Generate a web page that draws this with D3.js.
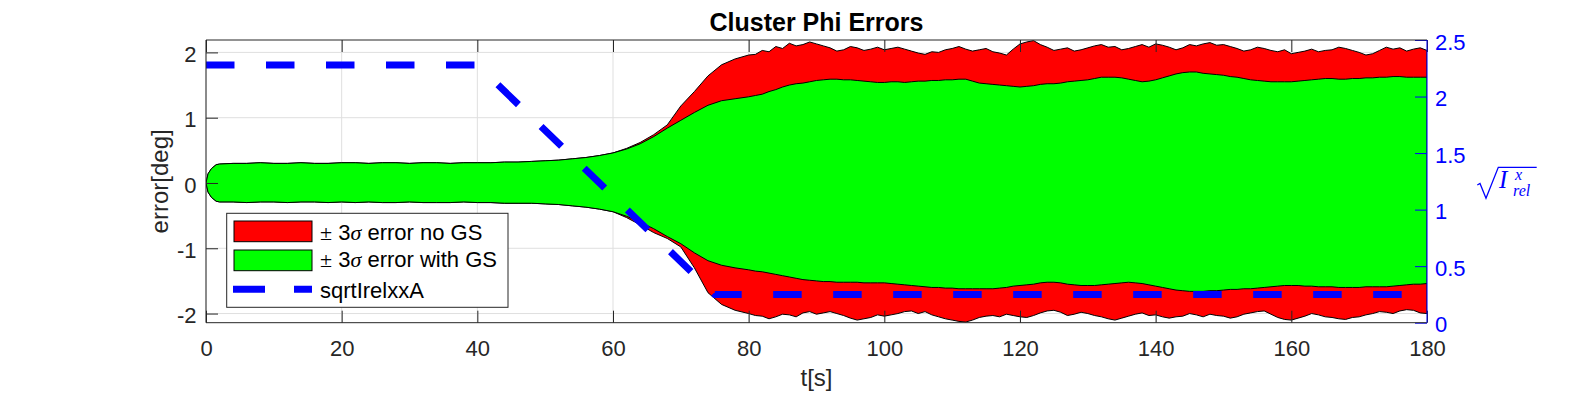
<!DOCTYPE html>
<html>
<head>
<meta charset="utf-8">
<script src="https://cdn.jsdelivr.net/npm/d3@7"></script>
<style>
body { margin: 0; background: #fff; }
text { font-family: "Liberation Sans", Arial, sans-serif; }
</style>
</head>
<body>
<script>
const width = 1578
const height = 395

// time samples [s]
const times = [
    0, 0.3, 0.8, 1.5,
    2, 4, 6, 8, 10, 12, 14, 16, 18, 20,
    22, 24, 26, 28, 30, 32, 34, 36, 38, 40,
    42, 44, 46, 48, 50, 52, 54, 56, 58, 60,
    62, 64, 66, 68, 70, 72, 74, 76, 78, 80,
    81, 82, 83, 84, 85, 86, 87, 88, 89, 90,
    91, 92, 93, 94, 95, 96, 97, 98, 99, 100,
    101, 102, 103, 104, 105, 106, 107, 108, 109, 110,
    111, 112, 113, 114, 115, 116, 117, 118, 119, 120,
    121, 122, 123, 124, 125, 126, 127, 128, 129, 130,
    131, 132, 133, 134, 135, 136, 137, 138, 139, 140,
    141, 142, 143, 144, 145, 146, 147, 148, 149, 150,
    151, 152, 153, 154, 155, 156, 157, 158, 159, 160,
    161, 162, 163, 164, 165, 166, 167, 168, 169, 170,
    171, 172, 173, 174, 175, 176, 177, 178, 179, 180
]

// +3 sigma / -3 sigma without GS [deg]
const noGsUpper = [
    0, 0.14, 0.22, 0.28,
    0.29, 0.30, 0.30, 0.31, 0.30, 0.30, 0.31, 0.30, 0.30, 0.31,
    0.31, 0.30, 0.31, 0.31, 0.30, 0.31, 0.31, 0.30, 0.31, 0.31,
    0.31, 0.32, 0.32, 0.33, 0.34, 0.35, 0.37, 0.39, 0.42, 0.46,
    0.53, 0.62, 0.74, 0.89, 1.18, 1.40, 1.64, 1.81, 1.90, 1.96,
    1.97, 2.03, 2.01, 2.09, 2.06, 2.14, 2.10, 2.12, 2.16, 2.13,
    2.10, 2.07, 2.02, 2.04, 2.09, 2.07, 2.03, 2.05, 2.08, 2.04,
    2.06, 2.08, 2.05, 2.02, 1.99, 1.97, 2.01, 2.00, 2.04, 2.06,
    2.09, 2.05, 2.02, 2.04, 2.06, 2.01, 1.99, 1.96, 2.05, 2.13,
    2.16, 2.18, 2.12, 2.08, 2.03, 2.05, 2.07, 2.02, 2.04, 2.07,
    2.10, 2.12, 2.08, 2.09, 2.04, 2.06, 2.09, 2.12, 2.08, 2.13,
    2.11, 2.08, 2.04, 2.07, 2.12, 2.10, 2.13, 2.15, 2.11, 2.12,
    2.09, 2.06, 2.02, 2.04, 2.08, 2.06, 2.03, 2.01, 2.04, 1.98,
    2.00, 2.02, 2.05, 2.01, 2.03, 2.04, 2.08, 2.06, 2.03, 2.00,
    1.96, 1.98, 2.03, 2.08, 2.05, 2.07, 2.02, 2.05, 2.07, 2.03
]
const noGsLower = [
    0, -0.14, -0.22, -0.28,
    -0.29, -0.29, -0.30, -0.29, -0.29, -0.30, -0.29, -0.29, -0.30, -0.29,
    -0.30, -0.29, -0.30, -0.30, -0.29, -0.30, -0.30, -0.30, -0.29, -0.30,
    -0.30, -0.31, -0.31, -0.31, -0.32, -0.33, -0.35, -0.37, -0.40, -0.44,
    -0.53, -0.64, -0.76, -0.85, -0.98, -1.30, -1.68, -1.86, -1.95, -2.00,
    -2.03, -2.04, -2.08, -2.05, -2.01, -2.02, -2.05, -1.99, -1.97, -2.01,
    -1.99, -1.97, -2.00, -2.03, -2.07, -2.10, -2.08, -2.06, -2.02, -2.04,
    -2.02, -2.00, -1.97, -1.96, -2.00, -1.97, -2.02, -2.05, -2.08, -2.10,
    -2.12, -2.13, -2.10, -2.06, -2.04, -2.03, -2.05, -2.01, -2.03, -2.05,
    -2.06, -2.03, -1.99, -1.96, -1.95, -1.98, -2.03, -2.01, -1.98, -2.00,
    -2.03, -2.05, -2.08, -2.10, -2.07, -2.04, -2.01, -1.99, -2.03, -2.02,
    -2.05, -2.07, -2.05, -2.04, -2.00, -2.02, -2.05, -2.01, -2.03, -2.04,
    -2.07, -2.05, -2.01, -1.99, -1.97, -1.96, -2.01, -2.06, -2.09, -2.10,
    -2.07, -2.04, -2.00, -2.02, -2.05, -2.06, -2.08, -2.09, -2.06, -2.05,
    -2.02, -2.00, -1.97, -1.98, -2.00, -1.96, -1.94, -1.95, -1.99, -2.00
]

// +3 sigma / -3 sigma with GS [deg]
const gsUpper = [
    0, 0.14, 0.22, 0.28,
    0.29, 0.30, 0.30, 0.31, 0.30, 0.30, 0.31, 0.30, 0.30, 0.31,
    0.31, 0.30, 0.31, 0.31, 0.30, 0.31, 0.31, 0.30, 0.31, 0.31,
    0.31, 0.32, 0.32, 0.33, 0.34, 0.35, 0.37, 0.39, 0.42, 0.46,
    0.52, 0.60, 0.71, 0.84, 0.96, 1.08, 1.19, 1.26, 1.29, 1.32,
    1.34, 1.36, 1.40, 1.43, 1.47, 1.50, 1.52, 1.53, 1.55, 1.57,
    1.58, 1.59, 1.59, 1.58, 1.58, 1.57, 1.56, 1.55, 1.54, 1.54,
    1.55, 1.55, 1.54, 1.55, 1.56, 1.56, 1.57, 1.57, 1.58, 1.58,
    1.59, 1.59, 1.56, 1.53, 1.52, 1.51, 1.50, 1.49, 1.48, 1.47,
    1.48, 1.49, 1.51, 1.52, 1.52, 1.53, 1.55, 1.56, 1.57, 1.58,
    1.60, 1.62, 1.62, 1.62, 1.61, 1.59, 1.57, 1.55, 1.56, 1.58,
    1.61, 1.64, 1.67, 1.69, 1.70, 1.70, 1.68, 1.67, 1.66, 1.65,
    1.63, 1.62, 1.60, 1.58, 1.57, 1.56, 1.55, 1.55, 1.55, 1.55,
    1.56, 1.57, 1.58, 1.59, 1.60, 1.60, 1.59, 1.59, 1.60, 1.60,
    1.61, 1.61, 1.62, 1.62, 1.63, 1.63, 1.62, 1.62, 1.62, 1.62
]
const gsLower = [
    0, -0.14, -0.22, -0.28,
    -0.29, -0.29, -0.30, -0.29, -0.29, -0.30, -0.29, -0.29, -0.30, -0.29,
    -0.30, -0.29, -0.30, -0.30, -0.29, -0.30, -0.30, -0.30, -0.29, -0.30,
    -0.30, -0.31, -0.31, -0.31, -0.32, -0.33, -0.35, -0.37, -0.40, -0.44,
    -0.51, -0.60, -0.70, -0.82, -0.93, -1.07, -1.19, -1.26, -1.30, -1.33,
    -1.35, -1.36, -1.38, -1.40, -1.42, -1.44, -1.46, -1.48, -1.49, -1.50,
    -1.51, -1.51, -1.52, -1.52, -1.52, -1.52, -1.53, -1.53, -1.53, -1.53,
    -1.54, -1.55, -1.56, -1.57, -1.58, -1.59, -1.60, -1.60, -1.61, -1.61,
    -1.62, -1.62, -1.62, -1.62, -1.62, -1.62, -1.61, -1.60, -1.58, -1.57,
    -1.56, -1.55, -1.53, -1.52, -1.52, -1.53, -1.55, -1.56, -1.57, -1.57,
    -1.57, -1.56, -1.55, -1.54, -1.53, -1.52, -1.53, -1.54, -1.56, -1.58,
    -1.60, -1.62, -1.64, -1.65, -1.66, -1.66, -1.66, -1.65, -1.65, -1.64,
    -1.63, -1.63, -1.62, -1.62, -1.61, -1.60, -1.59, -1.58, -1.57, -1.57,
    -1.57, -1.58, -1.58, -1.59, -1.59, -1.59, -1.60, -1.60, -1.60, -1.60,
    -1.59, -1.59, -1.59, -1.59, -1.58, -1.57, -1.56, -1.55, -1.55, -1.54
]

// sqrtIrelxxA (right axis) breakpoints
const relTimes = [0, 40, 75, 180]
const relValues = [2.28, 2.28, 0.25, 0.25]

const xTicks = [0, 20, 40, 60, 80, 100, 120, 140, 160, 180]
const yLeftTicks = [-2, -1, 0, 1, 2]
const yRightTicks = [0, 0.5, 1, 1.5, 2, 2.5]
const legendLabels = ['± 3σ error no GS', '± 3σ error with GS', 'sqrtIrelxxA']

const colors = {
    noGS: '#ff0000',
    withGS: '#00ff00',
    edge: '#000',
    rel: '#0000ff',
    axis: '#262626',
    grid: '#dfdfdf'
}

const plot = {left: 206, right: 1427, top: 40, bottom: 322.7}

const x = d3.scaleLinear().domain([0, 180]).range([plot.left, plot.right])
const yLeft = d3.scaleLinear().domain([-2.14, 2.19]).range([plot.bottom, plot.top])
const yRight = d3.scaleLinear().domain([0, 2.5]).range([plot.bottom, plot.top])

const svg = d3.select('body')
    .append('svg')
    .attr('width', width)
    .attr('height', height)

svg.append('defs').append('clipPath')
    .attr('id', 'plot-clip')
    .append('rect')
    .attr('x', plot.left)
    .attr('y', plot.top)
    .attr('width', plot.right - plot.left)
    .attr('height', plot.bottom - plot.top)

// grid
const grid = svg.append('g')
grid.selectAll('.vgrid')
    .data(xTicks)
    .enter().append('line')
    .attr('x1', d => x(d)).attr('x2', d => x(d))
    .attr('y1', plot.top).attr('y2', plot.bottom)
    .attr('stroke', colors.grid)
grid.selectAll('.hgrid')
    .data(yLeftTicks)
    .enter().append('line')
    .attr('x1', plot.left).attr('x2', plot.right)
    .attr('y1', d => yLeft(d)).attr('y2', d => yLeft(d))
    .attr('stroke', colors.grid)

// error bands
const band = (upper, lower) => times.map((t, i) => ({t, hi: upper[i], lo: lower[i]}))
const area = d3.area()
    .x(d => x(d.t))
    .y0(d => yLeft(d.lo))
    .y1(d => yLeft(d.hi))

const bands = svg.append('g').attr('clip-path', 'url(#plot-clip)')

bands.append('path')
    .datum(band(noGsUpper, noGsLower))
    .attr('d', area)
    .attr('fill', colors.noGS)
    .attr('stroke', colors.edge)
    .attr('stroke-width', 1)

bands.append('path')
    .datum(band(gsUpper, gsLower))
    .attr('d', area)
    .attr('fill', colors.withGS)
    .attr('stroke', colors.edge)
    .attr('stroke-width', 1)

// dashed blue line on the right axis
const relLine = d3.line()
    .x(d => x(d[0]))
    .y(d => yRight(d[1]))

bands.append('path')
    .datum(relTimes.map((t, i) => [t, relValues[i]]))
    .attr('d', relLine)
    .attr('fill', 'none')
    .attr('stroke', colors.rel)
    .attr('stroke-width', 7)
    .attr('stroke-dasharray', '28.5 31.5')

// axes
const styleAxis = (g, color) => {
    g.select('.domain').remove()
    g.selectAll('line').attr('stroke', color)
    g.selectAll('text')
        .attr('fill', color)
        .style('font-size', '22px')
        .style('font-family', '"Liberation Sans", Arial, sans-serif')
}

svg.append('g')
    .attr('transform', `translate(0,${plot.bottom})`)
    .call(d3.axisBottom(x).tickValues(xTicks).tickSize(-12).tickSizeOuter(0).tickPadding(17.5))
    .call(g => styleAxis(g, colors.axis))

svg.append('g')
    .attr('transform', `translate(0,${plot.top})`)
    .call(d3.axisTop(x).tickValues(xTicks).tickSize(-12).tickSizeOuter(0).tickFormat(''))
    .call(g => styleAxis(g, colors.axis))

svg.append('g')
    .attr('transform', `translate(${plot.left},0)`)
    .call(d3.axisLeft(yLeft).tickValues(yLeftTicks).tickSize(-12).tickSizeOuter(0).tickPadding(9.5)
        .tickFormat(d => String(d)))
    .call(g => styleAxis(g, colors.axis))
    .call(g => g.selectAll('text').attr('dy', '0.42em'))

svg.append('g')
    .attr('transform', `translate(${plot.right},0)`)
    .call(d3.axisRight(yRight).tickValues(yRightTicks).tickSize(-12).tickSizeOuter(0).tickPadding(8)
        .tickFormat(d => String(d)))
    .call(g => styleAxis(g, colors.rel))
    .call(g => g.selectAll('text').attr('dy', '0.42em'))

// box
const box = svg.append('g').attr('stroke-width', 1)
box.append('line')
    .attr('x1', plot.left).attr('x2', plot.right)
    .attr('y1', plot.top).attr('y2', plot.top)
    .attr('stroke', colors.axis)
box.append('line')
    .attr('x1', plot.left).attr('x2', plot.right)
    .attr('y1', plot.bottom).attr('y2', plot.bottom)
    .attr('stroke', colors.axis)
box.append('line')
    .attr('x1', plot.left).attr('x2', plot.left)
    .attr('y1', plot.top).attr('y2', plot.bottom)
    .attr('stroke', colors.axis)
box.append('line')
    .attr('x1', plot.right).attr('x2', plot.right)
    .attr('y1', plot.top).attr('y2', plot.bottom)
    .attr('stroke', colors.rel)

// title and labels
svg.append('text')
    .attr('x', (plot.left + plot.right) / 2)
    .attr('y', 31)
    .attr('text-anchor', 'middle')
    .attr('fill', '#000')
    .style('font-size', '25px')
    .style('font-weight', 'bold')
    .text('Cluster Phi Errors')

svg.append('text')
    .attr('x', (plot.left + plot.right) / 2)
    .attr('y', 386)
    .attr('text-anchor', 'middle')
    .attr('fill', colors.axis)
    .style('font-size', '24px')
    .text('t[s]')

svg.append('text')
    .attr('transform', `translate(168,${(plot.top + plot.bottom) / 2}) rotate(-90)`)
    .attr('text-anchor', 'middle')
    .attr('fill', colors.axis)
    .style('font-size', '24px')
    .text('error[deg]')

// right label: sqrt(I^x_rel)
const rlab = svg.append('g').attr('fill', colors.rel)
rlab.append('path')
    .attr('d', 'M1477.3,185 L1480,183.5 L1486,198.3 L1498.3,167.3 L1536.7,167.3')
    .attr('fill', 'none')
    .attr('stroke', colors.rel)
    .attr('stroke-width', 1.3)
rlab.append('text')
    .attr('x', 1499).attr('y', 188.3)
    .style('font-family', '"Liberation Serif", serif')
    .style('font-style', 'italic')
    .style('font-size', '25px')
    .text('I')
rlab.append('text')
    .attr('x', 1515).attr('y', 180)
    .style('font-family', '"Liberation Serif", serif')
    .style('font-style', 'italic')
    .style('font-size', '16px')
    .text('x')
rlab.append('text')
    .attr('x', 1513).attr('y', 196)
    .style('font-family', '"Liberation Serif", serif')
    .style('font-style', 'italic')
    .style('font-size', '16px')
    .text('rel')

// legend
const legend = svg.append('g')
legend.append('rect')
    .attr('x', 226.7).attr('y', 213.3)
    .attr('width', 281.3).attr('height', 94)
    .attr('fill', '#fff')
    .attr('stroke', colors.axis)
    .attr('stroke-width', 1)

legend.append('rect')
    .attr('x', 234).attr('y', 221)
    .attr('width', 78).attr('height', 20.7)
    .attr('fill', colors.noGS).attr('stroke', colors.edge)
legend.append('rect')
    .attr('x', 234).attr('y', 250)
    .attr('width', 78).attr('height', 20.7)
    .attr('fill', colors.withGS).attr('stroke', colors.edge)
legend.append('line')
    .attr('x1', 233).attr('x2', 312)
    .attr('y1', 289.3).attr('y2', 289.3)
    .attr('stroke', colors.rel)
    .attr('stroke-width', 7)
    .attr('stroke-dasharray', '32 29')

const legendBaselines = [240, 267.3, 298.3]
legendLabels.forEach((label, i) => {
    const t = legend.append('text')
        .attr('x', 320)
        .attr('y', legendBaselines[i])
        .attr('fill', '#000')
        .style('font-size', '22px')
    // tex-like symbols in serif
    label.split(/([±σ])/).filter(s => s.length).forEach(part => {
        const span = t.append('tspan').text(part)
        if (part === '±') span.style('font-family', '"Liberation Serif", serif')
        if (part === 'σ') span.style('font-family', '"Liberation Serif", serif').style('font-style', 'italic')
    })
})
</script>
</body>
</html>
